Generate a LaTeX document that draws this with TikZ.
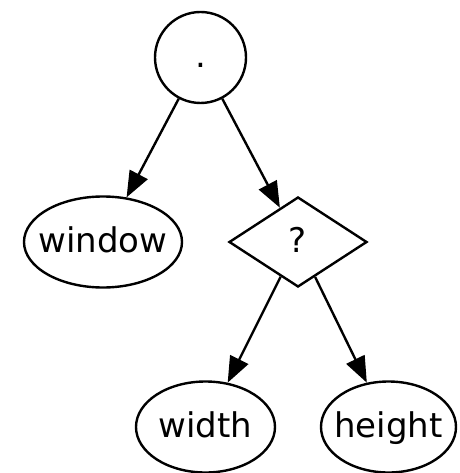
\documentclass[tikz,border=0pt]{standalone}
\usepackage{fontspec}
\setmainfont{DejaVu Sans}
\usetikzlibrary{shapes.geometric,arrows.meta}
\newcommand{\lbl}[1]{\makebox[0pt]{#1}}
\begin{document}
\begin{tikzpicture}[x=1pt,y=-1pt,
  every node/.style={draw, line width=2.4pt, inner sep=0pt,
    font=\fontsize{34}{40}\selectfont, text height=26pt, text depth=6pt},
  oval/.style={ellipse, minimum height=91pt},
  rhomb/.style={diamond, aspect=1.52, minimum width=138pt, minimum height=90pt},
  round/.style={circle, minimum size=91pt},
  edge/.style={line width=2.4pt, -{Triangle[length=26pt,width=20pt]}}]
  \useasboundingbox (0,0) rectangle (459,473);
  \node[round] (dot) at (200.5,57.5) {\lbl{.}};
  \node[oval, minimum width=158pt] (win) at (103,242) {\lbl{window}};
  \node[rhomb] (sel) at (298,242) {\lbl{?}};
  \node[oval, minimum width=139pt] (wid) at (205.5,427) {\lbl{width}};
  \node[oval, minimum width=135pt] (hei) at (388.5,427) {\lbl{height}};
  \draw[edge] (dot) -- (win);
  \draw[edge] (dot) -- (sel);
  \draw[edge] (sel) -- (wid);
  \draw[edge] (sel) -- (hei);
\end{tikzpicture}
\end{document}
